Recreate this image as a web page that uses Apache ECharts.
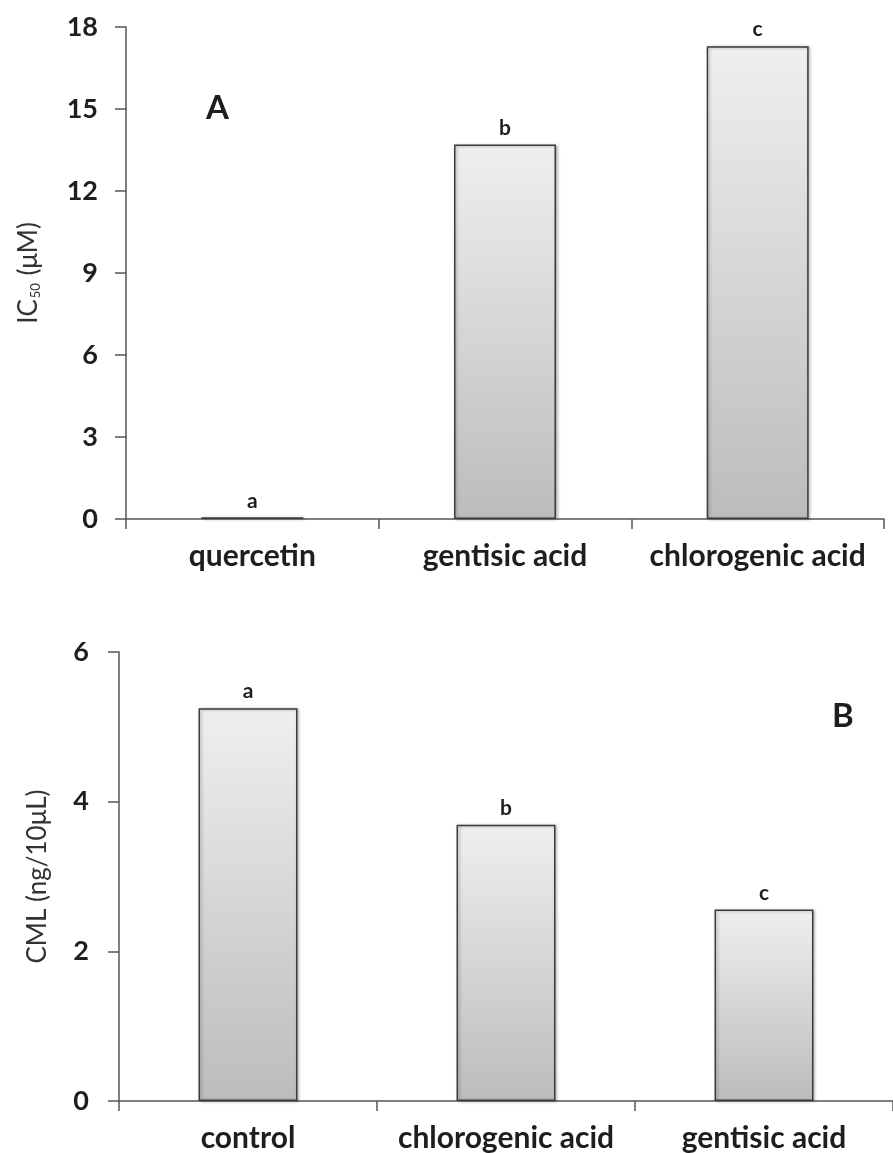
<!DOCTYPE html>
<html>
<head>
<meta charset="utf-8">
<script src="https://cdn.jsdelivr.net/npm/echarts@6/dist/echarts.min.js"></script>
<style>
  html, body { margin: 0; padding: 0; background: #fff; }
  #chart { width: 893px; height: 1153px; }
</style>
</head>
<body>
<div id="chart"></div>
<script>
// Panel A: IC50 values
const categoriesA = ['quercetin', 'gentisic acid', 'chlorogenic acid'];
const ic50Values = [0.06, 13.7, 17.3];
const groupLettersA = ['a', 'b', 'c'];
const yTicksA = [0, 3, 6, 9, 12, 15, 18];

// Panel B: CML levels
const categoriesB = ['control', 'chlorogenic acid', 'gentisic acid'];
const cmlValues = [5.25, 3.69, 2.56];
const groupLettersB = ['a', 'b', 'c'];
const yTicksB = [0, 2, 4, 6];

const FONT = 'Lato, "Open Sans", sans-serif';
const INK = '#1e1e1e';
const AXIS = '#555555';

const barFill = {
  type: 'linear', x: 0, y: 0, x2: 0, y2: 1,
  colorStops: [
    { offset: 0, color: '#eeefef' },
    { offset: 1, color: '#bcbcbc' }
  ]
};

function valueAxis(gridIndex, ticks, margin, name, nameGap) {
  return {
    type: 'value',
    gridIndex: gridIndex,
    min: ticks[0],
    max: ticks[ticks.length - 1],
    interval: ticks[1] - ticks[0],
    splitLine: { show: false },
    axisLine: { show: true, lineStyle: { color: AXIS, width: 1.5 } },
    axisTick: { show: true, inside: false, length: 11, lineStyle: { color: AXIS, width: 1.5 } },
    axisLabel: { margin: margin, color: INK, fontFamily: FONT, fontWeight: 'bold', fontSize: 27 },
    name: name,
    nameLocation: 'middle',
    nameGap: nameGap,
    nameRotate: 90,
    nameTextStyle: {
      color: '#333', fontFamily: FONT, fontSize: 26,
      rich: {
        t: { color: '#333', fontFamily: FONT, fontSize: 26 },
        s: { color: '#333', fontFamily: FONT, fontSize: 13, verticalAlign: 'bottom', padding: [0, 1, 0, 1] }
      }
    }
  };
}

function categoryAxis(gridIndex, cats) {
  return {
    type: 'category',
    gridIndex: gridIndex,
    data: cats,
    boundaryGap: true,
    axisLine: { show: true, lineStyle: { color: AXIS, width: 1.5 } },
    axisTick: { show: true, alignWithLabel: false, interval: 0, length: 10, lineStyle: { color: AXIS, width: 1.5 } },
    axisLabel: {
      interval: 0, hideOverlap: false, margin: 22,
      color: INK, fontFamily: FONT, fontWeight: 'bold', fontSize: 30
    }
  };
}

function barSeries(axisIndex, values, letters, width) {
  return {
    type: 'bar',
    xAxisIndex: axisIndex,
    yAxisIndex: axisIndex,
    data: values,
    barWidth: width,
    itemStyle: {
      color: barFill,
      borderColor: '#3c3c3c',
      borderWidth: 1.5,
      shadowColor: 'rgba(0,0,0,0.28)',
      shadowBlur: 3,
      shadowOffsetX: 1.5,
      shadowOffsetY: 0.5
    },
    label: {
      show: true,
      position: 'top',
      distance: 6,
      color: INK,
      fontFamily: FONT,
      fontWeight: 'bold',
      fontSize: 21,
      formatter: p => letters[p.dataIndex]
    },
    emphasis: { disabled: true },
    animation: false
  };
}

const chart = echarts.init(document.getElementById('chart'), null, { renderer: 'canvas' });

chart.setOption({
  backgroundColor: '#ffffff',
  animation: false,
  grid: [
    { left: 126, top: 27, right: 9, height: 492 },
    { left: 119, top: 652, right: -8, height: 450 }
  ],
  xAxis: [categoryAxis(0, categoriesA), categoryAxis(1, categoriesB)],
  yAxis: [
    valueAxis(0, yTicksA, 28, '{t|IC}{s|50}{t| (μM)}', 84),
    valueAxis(1, yTicksB, 30, 'CML (ng/10μL)', 68)
  ],
  series: [
    barSeries(0, ic50Values, groupLettersA, 102),
    barSeries(1, cmlValues, groupLettersB, 99)
  ],
  graphic: [
    { type: 'text', left: 206, top: 92, style: { text: 'A', fill: INK, font: 'bold 33px ' + FONT } },
    { type: 'text', left: 832, top: 700, style: { text: 'B', fill: INK, font: 'bold 33px ' + FONT } }
  ]
});
</script>
</body>
</html>
